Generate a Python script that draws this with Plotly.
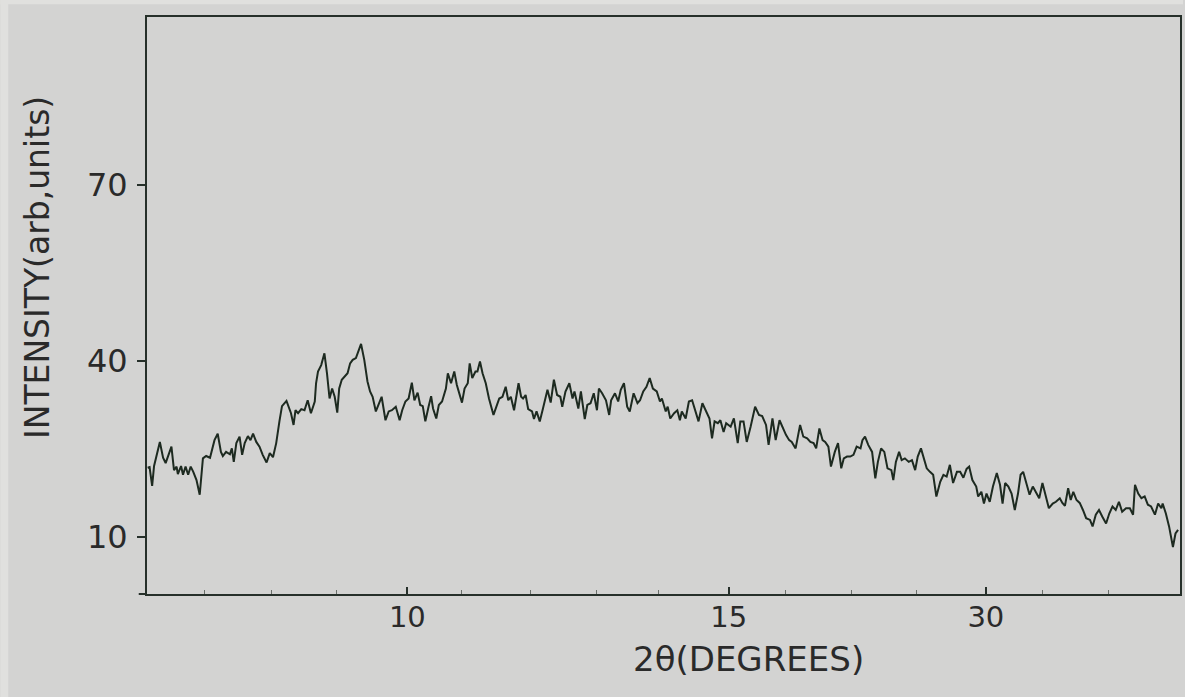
import plotly.graph_objects as go

# 2-theta (degrees) and intensity (arb. units)
two_theta = [
    5.96, 5.99, 6.03, 6.06, 6.15, 6.20, 6.24, 6.28, 6.33, 6.37, 6.41, 6.43, 6.48, 6.51, 6.55, 6.59,
    6.63, 6.67, 6.72, 6.77, 6.82, 6.87, 6.93, 7.00, 7.05, 7.10, 7.13, 7.18, 7.24, 7.27, 7.30, 7.34,
    7.39, 7.43, 7.47, 7.52, 7.56, 7.60, 7.65, 7.70, 7.75, 7.81, 7.86, 7.91, 7.96, 8.01, 8.05, 8.12,
    8.15, 8.19, 8.23, 8.26, 8.30, 8.35, 8.40, 8.45, 8.50, 8.56, 8.58, 8.61, 8.66, 8.71, 8.75, 8.79,
    8.83, 8.87, 8.91, 8.94, 8.98, 9.02, 9.07, 9.11, 9.15, 9.20, 9.28, 9.33, 9.38, 9.42, 9.46, 9.51,
    9.55, 9.60, 9.66, 9.71, 9.76, 9.82, 9.88, 9.92, 9.97, 10.02, 10.07, 10.11, 10.16, 10.20, 10.24,
    10.28, 10.33, 10.37, 10.40, 10.45, 10.49, 10.54, 10.60, 10.63, 10.68, 10.73, 10.77, 10.81, 10.85,
    10.89, 10.94, 10.97, 11.01, 11.06, 11.09, 11.13, 11.17, 11.22, 11.27, 11.34, 11.38, 11.43, 11.48,
    11.53, 11.57, 11.61, 11.66, 11.73, 11.77, 11.80, 11.84, 11.88, 11.94, 11.97, 12.01, 12.06, 12.11,
    12.18, 12.23, 12.28, 12.33, 12.38, 12.41, 12.46, 12.52, 12.57, 12.60, 12.66, 12.70, 12.76, 12.80,
    12.85, 12.90, 12.95, 12.98, 13.03, 13.09, 13.14, 13.17, 13.23, 13.28, 13.32, 13.37, 13.42, 13.46,
    13.52, 13.58, 13.62, 13.67, 13.72, 13.77, 13.82, 13.88, 13.93, 13.96, 14.02, 14.05, 14.09, 14.15,
    14.20, 14.24, 14.27, 14.33, 14.38, 14.43, 14.48, 14.53, 14.59, 14.64, 14.70, 14.74, 14.78, 14.83,
    14.87, 14.92, 14.96, 15.03, 15.08, 15.14, 15.18, 15.23, 15.28, 15.34, 15.41, 15.47, 15.52, 15.58,
    15.62, 15.68, 15.73, 15.79, 15.84, 15.89, 15.94, 15.98, 16.04, 16.08, 16.11, 16.16, 16.22, 16.27,
    16.32, 16.36, 16.41, 16.46, 16.50, 16.55, 16.59, 16.65, 16.70, 16.75, 16.79, 16.84, 16.89, 16.94,
    16.99, 17.05, 17.08, 17.12, 17.17, 17.23, 17.28, 17.32, 17.37, 17.42, 17.47, 17.53, 17.56, 17.60,
    17.65, 17.69, 17.74, 17.80, 17.85, 17.90, 17.94, 17.99, 18.04, 18.08, 18.13, 18.18, 18.23, 18.29,
    18.34, 18.39, 18.44, 18.49, 18.55, 18.60, 18.65, 18.70, 18.74, 18.79, 18.85, 18.88, 18.93, 18.97,
    19.01, 19.06, 19.11, 19.17, 19.22, 19.26, 19.30, 19.35, 19.40, 19.45, 19.50, 19.54, 19.58, 19.63,
    19.68, 19.73, 19.78, 19.83, 19.88, 19.93, 19.98, 20.04, 20.09, 20.15, 20.19, 20.23, 20.28, 20.32,
    20.36, 20.41, 20.46, 20.51, 20.56, 20.62, 20.66, 20.71, 20.76, 20.81, 20.87, 20.92, 20.97, 21.02,
    21.07, 21.12, 21.18, 21.24, 21.29, 21.32, 21.37, 21.42, 21.47, 21.52, 21.57, 21.63, 21.68, 21.73,
    21.75, 21.80, 21.85, 21.91, 21.95, 21.99,
]

intensity = [
    21.8, 21.9, 18.7, 22.1, 26.2, 23.5, 22.6, 24.0, 25.4, 21.4, 22.0, 20.7, 22.1, 20.6, 22.0, 20.6,
    22.0, 21.1, 19.7, 17.2, 23.4, 23.8, 23.5, 26.5, 27.6, 24.5, 23.8, 24.5, 24.1, 25.1, 22.8, 26.0,
    27.1, 24.0, 26.0, 27.2, 26.5, 27.6, 26.2, 25.4, 24.0, 22.7, 24.3, 23.6, 26.0, 29.7, 32.3, 33.2,
    32.2, 31.1, 29.1, 31.6, 31.1, 31.8, 31.6, 33.3, 31.1, 33.1, 36.2, 38.2, 39.3, 41.3, 37.9, 33.6,
    35.3, 33.9, 31.2, 35.3, 36.8, 37.3, 37.9, 39.6, 40.2, 40.5, 42.9, 40.2, 36.5, 34.8, 33.9, 31.4,
    32.5, 33.9, 29.9, 31.4, 31.6, 32.2, 29.9, 31.6, 33.1, 33.6, 36.3, 33.3, 34.6, 32.5, 32.3,
    29.7, 32.2, 34.0, 31.9, 30.2, 32.5, 33.1, 35.3, 37.9, 36.2, 38.2, 35.9, 34.5, 32.9,
    35.3, 36.2, 39.6, 37.1, 38.2, 38.2, 39.9, 37.9, 36.2, 33.6, 30.8, 32.2, 33.6, 33.9,
    35.6, 33.3, 33.9, 31.6, 36.2, 33.9, 33.6, 34.2, 31.8, 31.4, 30.1, 31.4, 29.7, 31.9,
    35.1, 32.9, 36.8, 34.2, 33.9, 32.2, 34.8, 36.2, 33.6, 34.8, 31.9, 34.8, 30.1, 32.5,
    32.8, 34.5, 31.6, 35.3, 34.5, 33.3, 30.8, 33.3, 34.5, 33.1, 35.1, 36.2, 32.2, 31.4,
    34.5, 32.8, 33.3, 34.8, 35.6, 37.1, 35.3, 34.8, 33.1, 33.6, 31.4, 32.2, 30.2, 31.1,
    31.6, 29.9, 31.4, 30.2, 33.1, 33.3, 31.6, 29.7, 32.8, 31.6, 30.2, 26.8, 29.7, 29.4,
    29.9, 27.9, 29.4, 28.8, 30.2, 26.0, 29.7, 29.7, 26.2, 28.8, 32.2, 30.8, 30.6, 29.1,
    25.7, 30.2, 26.5, 29.9, 28.5, 27.4, 26.5, 26.2, 25.1, 27.1, 29.1, 27.1, 26.8, 26.2,
    26.0, 25.1, 28.5, 26.5, 26.2, 25.4, 22.0, 24.5, 26.0, 21.7, 23.4, 23.7, 23.7, 24.0,
    25.4, 25.1, 26.5, 27.1, 25.7, 24.5, 20.0, 22.8, 25.1, 24.5, 21.7, 21.4, 19.7, 22.8,
    24.5, 23.1, 23.4, 22.8, 23.1, 21.4, 23.7, 25.1, 23.4, 21.7, 21.1, 20.6, 16.9, 19.4,
    20.6, 20.3, 22.3, 19.2, 21.1, 21.1, 20.1, 21.6, 22.0, 19.7, 18.6, 16.9, 17.7, 15.7,
    17.4, 16.0, 18.6, 20.9, 18.9, 15.7, 19.2, 18.6, 17.4, 14.6, 17.4, 20.6, 21.1, 18.9,
    17.2, 18.6, 17.7, 16.6, 19.2, 16.9, 14.9, 15.7, 16.0, 16.6, 15.8, 15.3, 18.3, 16.3,
    17.7, 16.3, 15.8, 14.6, 13.2, 12.9, 11.8, 13.8, 14.6, 13.5, 12.3, 14.0, 15.2, 14.6,
    16.0, 14.3, 14.9, 14.9, 13.8, 18.9, 17.4, 16.6, 16.9, 15.5, 15.2, 13.8, 15.7, 14.9,
    15.7, 14.0, 11.8, 8.3, 10.6, 11.2,
]

x_tick_vals = [10, 15, 19]
x_tick_text = ["10", "15", "30"]
x_minor_vals = [6.85, 7.89, 8.90, 10.85, 11.91, 12.95, 13.91, 15.89, 16.91, 17.92, 19.88, 20.90]
y_tick_vals = [10, 40, 70]
y_tick_text = ["10", "40", "70"]

BG = "#d3d3d2"
EDGE = "#e0e0de"
INK = "#26302a"
TXT = "#2a2a2a"
FONT = "DejaVu Sans"

fig = go.Figure()
fig.add_trace(go.Scatter(
    x=two_theta, y=intensity, mode="lines",
    line=dict(color="#1d2a20", width=2.0),
    hoverinfo="skip", showlegend=False,
))

fig.update_layout(
    width=1185, height=697,
    margin=dict(l=147, r=3, t=17, b=103),
    paper_bgcolor=BG, plot_bgcolor=BG,
    font=dict(family=FONT, color=TXT),
    showlegend=False,
    xaxis=dict(
        range=[5.95, 22.02], showgrid=False, zeroline=False,
        showline=True, linecolor=INK, linewidth=2, mirror=True,
        tickmode="array", tickvals=x_tick_vals, ticktext=x_tick_text,
        ticks="inside", ticklen=7, tickwidth=2, tickcolor=INK,
        tickfont=dict(size=29, family=FONT, color=TXT),
        ticklabelstandoff=-4,
        minor=dict(tickmode="array", tickvals=x_minor_vals, ticks="inside",
                   ticklen=4, tickwidth=1, tickcolor="#6a6f6a", showgrid=False),
    ),
    yaxis=dict(
        range=[0.28, 98.63], showgrid=False, zeroline=False,
        showline=True, linecolor=INK, linewidth=2, mirror=True,
        tickmode="array", tickvals=y_tick_vals, ticktext=y_tick_text,
        ticks="outside", ticklen=8, tickwidth=2, tickcolor=INK,
        tickfont=dict(size=32, family=FONT, color=TXT),
        ticklabelstandoff=3,
    ),
    annotations=[
        dict(text="INTENSITY(arb,units)", xref="paper", yref="paper",
             x=-0.1055, y=0.565, xanchor="center", yanchor="middle",
             textangle=-90, showarrow=False,
             font=dict(size=33, family=FONT, color=TXT)),
        dict(text="2θ(DEGREES)", xref="paper", yref="paper",
             x=0.5826, y=-0.1125, xanchor="center", yanchor="middle",
             showarrow=False,
             font=dict(size=34, family=FONT, color=TXT)),
    ],
    shapes=[
        # small overhang of the baseline to the left of the y axis
        dict(type="line", xref="paper", yref="paper", x0=-0.008, x1=0, y0=0, y1=0,
             line=dict(color=INK, width=2)),
        # lighter scanned-paper edges
        dict(type="rect", xref="paper", yref="paper", x0=-0.1420, x1=-0.1343, y0=-0.1785, y1=1.0295,
             line=dict(width=0), fillcolor=EDGE, layer="below"),
        dict(type="rect", xref="paper", yref="paper", x0=-0.1420, x1=1.0029, y0=1.022, y1=1.0295,
             line=dict(width=0), fillcolor=EDGE, layer="below"),
    ],
)

fig.write_html(
    "out.html",
    config={"displayModeBar": False},
    post_script="document.body.style.margin='0';document.body.style.padding='0';"
                "document.body.style.background='" + BG + "';",
)
